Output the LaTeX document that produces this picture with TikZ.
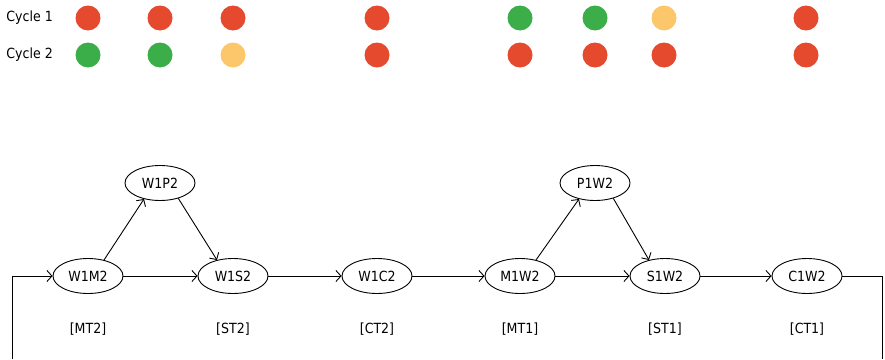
\documentclass[tikz,border=0pt]{standalone}
\usepackage{fontspec}
\setmainfont{DejaVu Sans Condensed}
\usetikzlibrary{shapes.geometric,arrows.meta}
\definecolor{dotred}{HTML}{E64A2E}
\definecolor{dotgreen}{HTML}{3BAE4A}
\definecolor{dotyellow}{HTML}{FCC76B}
\begin{document}
\begin{tikzpicture}[x=1pt,y=-1pt,font=\fontsize{14}{16}\selectfont,line width=0.9pt,
    state/.style={draw,ellipse,minimum width=70pt,minimum height=35pt,inner sep=0pt},
    flow/.style={-{Straight Barb[length=5pt,width=11pt]}},
    tag/.style={inner sep=0pt}]
  \useasboundingbox (0,0) rectangle (885,359);
  % cycle rows
  \node[tag,anchor=west] (cyc1) at (6,18) {Cycle 1};
  \node[tag,anchor=west] (cyc2) at (6,55) {Cycle 2};
  \fill[dotred] (88,18) circle (12.5);
  \fill[dotred] (160,18) circle (12.5);
  \fill[dotred] (233,18) circle (12.5);
  \fill[dotred] (377,18) circle (12.5);
  \fill[dotgreen] (520,18) circle (12.5);
  \fill[dotgreen] (595,18) circle (12.5);
  \fill[dotyellow] (664,18) circle (12.5);
  \fill[dotred] (806,18) circle (12.5);
  \fill[dotgreen] (88,55) circle (12.5);
  \fill[dotgreen] (160,55) circle (12.5);
  \fill[dotyellow] (233,55) circle (12.5);
  \fill[dotred] (377,55) circle (12.5);
  \fill[dotred] (520,55) circle (12.5);
  \fill[dotred] (595,55) circle (12.5);
  \fill[dotred] (664,55) circle (12.5);
  \fill[dotred] (806,55) circle (12.5);
  % states
  \node[state] (W1M2) at (88,276) {W1M2};
  \node[state] (W1P2) at (160,183) {W1P2};
  \node[state] (W1S2) at (233,276) {W1S2};
  \node[state] (W1C2) at (377,276) {W1C2};
  \node[state] (M1W2) at (520,276) {M1W2};
  \node[state] (P1W2) at (595,183) {P1W2};
  \node[state] (S1W2) at (665,276) {S1W2};
  \node[state] (C1W2) at (807,276) {C1W2};
  \node[tag] (mt2) at (88,329) {[MT2]};
  \node[tag] (st2) at (233,329) {[ST2]};
  \node[tag] (ct2) at (377,329) {[CT2]};
  \node[tag] (mt1) at (520,329) {[MT1]};
  \node[tag] (st1) at (665,329) {[ST1]};
  \node[tag] (ct1) at (807,329) {[CT1]};
  % transitions
  \draw[flow] (W1M2.45) -- (W1P2.225);
  \draw[flow] (W1P2.-40) -- (W1S2.135);
  \draw[flow] (W1M2) -- (W1S2);
  \draw[flow] (W1S2) -- (W1C2);
  \draw[flow] (W1C2) -- (M1W2);
  \draw[flow] (M1W2.45) -- (P1W2.225);
  \draw[flow] (P1W2.-40) -- (S1W2.135);
  \draw[flow] (M1W2) -- (S1W2);
  \draw[flow] (S1W2) -- (C1W2);
  % loop back
  \coordinate (loopR) at (882,359);
  \coordinate (loopL) at (12,359);
  \draw (C1W2.east) -| (loopR);
  \draw[flow] (loopL) |- (W1M2.west);
\end{tikzpicture}
\end{document}
